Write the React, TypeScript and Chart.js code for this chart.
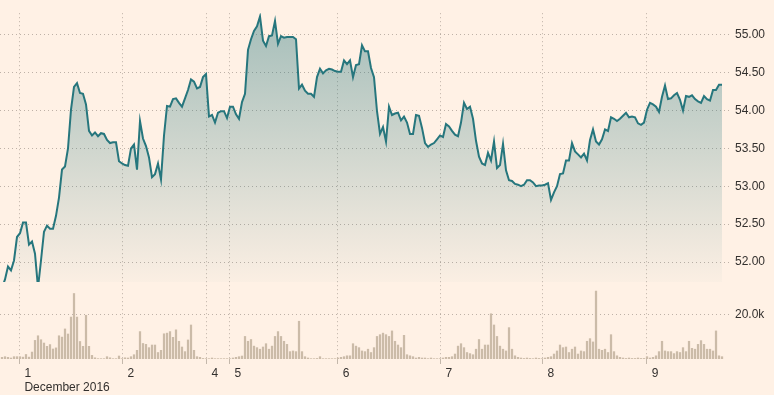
import React, { useEffect, useRef } from "react";
import { Chart, registerables } from "chart.js";

Chart.register(...registerables);

// Period index (one step per sampled interval) where each trading day begins
const dayStarts = [5.8, 40.2, 68.2, 75.8, 111.9, 146.2, 180.2, 214.9];
const dayLabels: (string | string[])[] = [["1", "December 2016"], "2", "4", "5", "6", "7", "8", "9"];

const priceTicks = [52, 52.5, 53, 53.5, 54, 54.5, 55];
const volumeTicks = [20];

// Price per period
const prices = [
  51.66, 51.77, 51.94, 51.89, 52.02, 52.33, 52.38, 52.52, 52.52, 52.23,
  52.27, 52.11, 51.66, 52.02, 52.40, 52.48, 52.44, 52.44, 52.61, 52.85,
  53.22, 53.26, 53.50, 54.01, 54.31, 54.36, 54.23, 54.22, 54.08, 53.73,
  53.67, 53.71, 53.66, 53.70, 53.69, 53.61, 53.57, 53.58, 53.58, 53.33,
  53.30, 53.28, 53.27, 53.50, 53.55, 53.22, 53.86, 53.63, 53.53, 53.38,
  53.12, 53.16, 53.30, 53.09, 53.67, 54.06, 54.05, 54.15, 54.16, 54.10,
  54.05, 54.16, 54.27, 54.41, 54.38, 54.29, 54.31, 54.44, 54.48, 53.92,
  53.94, 53.84, 53.97, 53.99, 53.99, 53.90, 54.05, 54.05, 53.95, 53.89,
  54.11, 54.22, 54.80, 54.94, 55.05, 55.11, 55.24, 54.92, 54.85, 54.98,
  54.99, 55.18, 54.88, 54.98, 54.96, 54.97, 54.97, 54.97, 54.94, 54.29,
  54.34, 54.26, 54.22, 54.22, 54.18, 54.44, 54.55, 54.49, 54.53, 54.55,
  54.54, 54.52, 54.51, 54.51, 54.66, 54.61, 54.66, 54.44, 54.60, 54.61,
  54.86, 54.78, 54.78, 54.56, 54.44, 53.99, 53.69, 53.78, 53.59, 54.05,
  53.94, 53.96, 53.97, 53.87, 53.92, 53.84, 53.69, 53.69, 53.94, 53.93,
  53.77, 53.57, 53.52, 53.55, 53.57, 53.62, 53.67, 53.65, 53.82, 53.79,
  53.73, 53.68, 53.66, 53.84, 54.10, 54.02, 54.05, 53.89, 53.60, 53.39,
  53.30, 53.28, 53.44, 53.34, 53.59, 53.24, 53.28, 53.56, 53.21, 53.08,
  53.07, 53.03, 53.02, 53.00, 53.02, 53.08, 53.08, 53.05, 53.00, 53.01,
  53.01, 53.02, 53.04, 52.82, 52.92, 53.00, 53.16, 53.17, 53.34, 53.34,
  53.57, 53.46, 53.42, 53.38, 53.43, 53.34, 53.61, 53.75, 53.59, 53.55,
  53.62, 53.75, 53.73, 53.91, 53.89, 53.86, 53.89, 53.93, 53.97, 53.91,
  53.92, 53.91, 53.83, 53.81, 53.84, 54.01, 54.10, 54.08, 54.05, 53.98,
  54.18, 54.33, 54.15, 54.16, 54.20, 54.23, 54.14, 54.00, 54.19, 54.18,
  54.20, 54.15, 54.12, 54.10, 54.19, 54.15, 54.13, 54.27, 54.27, 54.34,
  54.34,
];

// Volume per period, thousands
const volumesK = [
  0.9, 1.2, 0.9, 0.6, 1.2, 1.2, 1.2, 1.0, 2.2, 1.0,
  3.3, 8.6, 10.7, 8.9, 7.4, 5.9, 6.7, 4.7, 5.2, 10.7,
  10.1, 13.8, 11.5, 19.2, 29.9, 19.2, 8.1, 5.9, 20.0, 5.9,
  1.8, 0.7, 0.3, 0.3, 0.3, 1.2, 0.7, 0.3, 0.3, 1.5,
  0.3, 0.7, 0.6, 1.2, 2.1, 4.1, 12.6, 7.2, 6.8, 5.3,
  6.5, 6.5, 3.1, 4.1, 11.6, 11.9, 12.6, 10.0, 13.4, 8.2,
  5.6, 3.5, 8.8, 15.6, 4.1, 1.2, 0.9, 0.4, 0.3, 0.3,
  0.6, 0.3, 0.3, 0.3, 0.3, 0.3, 0.3, 0.6, 0.9, 1.2,
  1.5, 10.4, 8.2, 9.0, 6.0, 5.3, 4.6, 5.6, 7.1, 4.6,
  6.0, 10.4, 12.6, 10.4, 8.2, 6.8, 3.5, 3.8, 3.5, 17.3,
  3.5, 1.2, 0.6, 0.3, 0.3, 0.4, 1.2, 0.3, 0.3, 0.3,
  0.3, 0.3, 0.6, 0.9, 1.2, 1.6, 1.6, 7.1, 6.0, 5.3,
  3.8, 3.5, 4.6, 3.1, 5.3, 10.4, 11.2, 11.9, 11.2, 10.4,
  12.9, 8.2, 6.5, 5.3, 10.9, 2.1, 1.6, 1.2, 0.6, 0.9,
  0.6, 0.6, 0.3, 0.6, 0.3, 0.3, 0.3, 0.6, 0.9, 0.9,
  1.2, 2.4, 6.0, 7.1, 5.3, 3.1, 2.6, 2.1, 4.6, 9.0,
  4.6, 6.5, 6.5, 20.7, 15.6, 10.4, 6.0, 4.6, 3.8, 14.4,
  4.6, 1.6, 0.9, 0.6, 0.4, 0.6, 0.4, 0.3, 0.6, 0.4,
  0.3, 0.6, 0.9, 1.2, 2.4, 3.8, 6.5, 5.3, 5.6, 3.1,
  4.6, 5.6, 2.4, 3.8, 3.5, 8.2, 9.4, 7.9, 31.0, 4.6,
  4.1, 4.6, 3.1, 11.2, 3.5, 1.6, 0.9, 0.6, 0.4, 0.6,
  0.4, 0.4, 0.6, 0.4, 0.4, 1.2, 0.6, 0.9, 1.6, 3.5,
  8.2, 3.8, 3.5, 3.5, 2.6, 3.5, 3.1, 5.3, 3.5, 8.2,
  5.0, 4.6, 6.8, 8.5, 6.8, 4.6, 4.6, 3.8, 12.9, 1.6,
  1.2,
];

const BG = "#fff1e5";
const TEAL = "#26767d";
const GRID = "rgba(110,100,90,0.45)";
const TEXT = "#33302e";
const FONT = "'Liberation Sans', Arial, sans-serif";

export default function App() {
  const ref = useRef<HTMLCanvasElement | null>(null);

  useEffect(() => {
    if (!ref.current) return;
    const priceData = prices.map((y, i) => ({ x: i, y }));
    const volData = volumesK.map((y, i) => ({ x: i, y }));

    const bgPlugin = {
      id: "bg",
      beforeDraw(chart: any) {
        const { ctx, width, height } = chart;
        ctx.save();
        ctx.fillStyle = BG;
        ctx.fillRect(0, 0, width, height);
        ctx.restore();
      },
    };

    const chart = new Chart(ref.current, {
      type: "line",
      data: {
        datasets: [
          {
            type: "line",
            data: priceData,
            xAxisID: "x",
            yAxisID: "y",
            borderColor: TEAL,
            borderWidth: 2,
            pointRadius: 0,
            tension: 0,
            fill: "start",
            backgroundColor: (c: any) => {
              const ch = c.chart;
              const area = ch.chartArea;
              const ys = ch.scales.y;
              if (!area || !ys) return "rgba(38,118,125,0.2)";
              const g = ch.ctx.createLinearGradient(0, ys.top, 0, ys.bottom);
              g.addColorStop(0, "rgba(38,118,125,0.42)");
              g.addColorStop(1, "rgba(38,118,125,0.02)");
              return g;
            },
            order: 1,
          } as any,
          {
            type: "bar",
            data: volData,
            xAxisID: "x",
            yAxisID: "yv",
            backgroundColor: "#cbbba8",
            barPercentage: 0.75,
            categoryPercentage: 1,
            order: 2,
          } as any,
        ],
      },
      options: {
        animation: false,
        responsive: false,
        maintainAspectRatio: false,
        layout: { padding: 0 },
        plugins: {
          legend: { display: false },
          tooltip: { enabled: false },
        },
        scales: {
          x: {
            type: "linear",
            position: "bottom",
            offset: false,
            min: -0.667,
            max: 242.33,
            afterBuildTicks: (s: any) => {
              s.ticks = dayStarts.map((v) => ({ value: v }));
            },
            afterFit: (s: any) => {
              s.height = 36;
              s.paddingLeft = 0;
              s.paddingRight = 0;
            },
            grid: {
              offset: false,
              color: GRID,
              lineWidth: 1,
              drawTicks: true,
              tickLength: 5,
              tickColor: "#c4b8ab",
              tickWidth: 1,
              tickBorderDash: [],
            } as any,
            border: { display: false, dash: [1, 3] },
            ticks: {
              autoSkip: false,
              maxRotation: 0,
              align: "start",
              labelOffset: 5,
              padding: 2,
              color: TEXT,
              font: { family: FONT, size: 12 },
              callback: (_v: any, i: number) => dayLabels[i],
            },
          },
          y: {
            type: "linear",
            position: "right",
            stack: "panels",
            stackWeight: 279,
            min: 51.737,
            max: 55.2835,
            afterBuildTicks: (s: any) => {
              s.ticks = priceTicks.map((v) => ({ value: v }));
            },
            afterFit: (s: any) => {
              s.width = 45;
            },
            grid: {
              color: GRID,
              drawTicks: false,
            } as any,
            border: { display: false, dash: [1, 3] },
            ticks: {
              padding: 6,
              color: TEXT,
              font: { family: FONT, size: 12 },
              callback: (v: any) => Number(v).toFixed(2),
            },
          },
          yv: {
            type: "linear",
            position: "right",
            stack: "panels",
            stackWeight: 80,
            min: 0,
            max: 35,
            afterBuildTicks: (s: any) => {
              s.ticks = volumeTicks.map((v) => ({ value: v }));
            },
            afterFit: (s: any) => {
              s.width = 45;
            },
            grid: {
              color: GRID,
              drawTicks: false,
            } as any,
            border: { display: false, dash: [1, 3] },
            ticks: {
              padding: 6,
              color: TEXT,
              font: { family: FONT, size: 12 },
              callback: (v: any) => Number(v).toFixed(1) + "k",
            },
          },
        },
      } as any,
      plugins: [bgPlugin],
    });
    return () => chart.destroy();
  }, []);

  return (
    <div style={{ position: "absolute", left: 0, top: 0, width: 774, height: 395, background: BG }}>
      <canvas ref={ref} width={774} height={395} style={{ display: "block", width: 774, height: 395 }} />
    </div>
  );
}
